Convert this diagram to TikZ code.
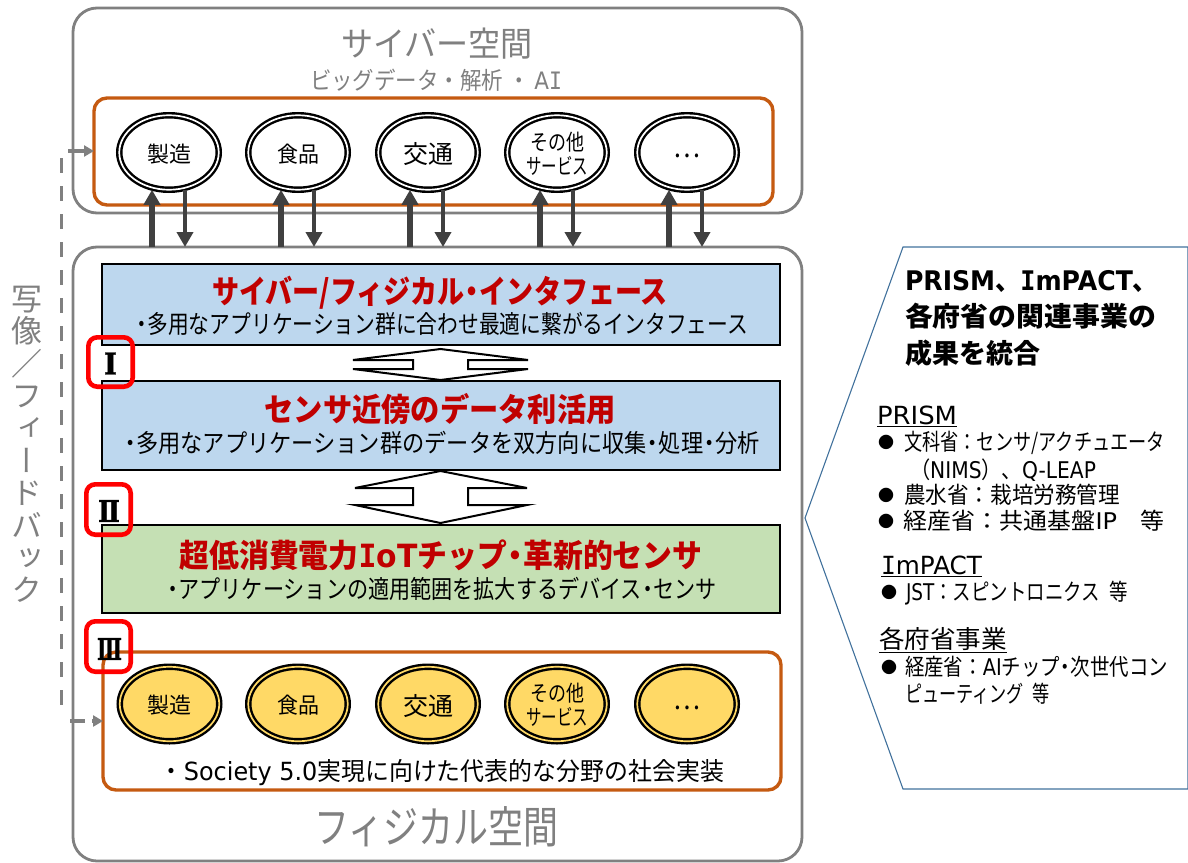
\documentclass[tikz,border=0pt]{standalone}
\usepackage{fontspec}
\usepackage{graphicx}
\setmainfont{Noto Sans CJK JP}
\newfontfamily\vjp[RawFeature=+vert]{Noto Sans CJK JP}
\newfontfamily\romf[FakeBold=1.2]{DejaVu Serif Bold}
\newfontfamily\latf{DejaVu Sans}
\newfontfamily\imono{DejaVu Sans Mono}
\newcommand\lat[1]{{\latf #1}}
\newcommand\serI{{\imono I}}
\newcommand\nd{\makebox[.55em][c]{・}}
\usetikzlibrary{arrows.meta,shapes.geometric}
\definecolor{gr}{HTML}{808080}
\definecolor{orng}{HTML}{C55A11}
\definecolor{blu}{HTML}{BDD7EE}
\definecolor{grn}{HTML}{C5E0B4}
\definecolor{yel}{HTML}{FFD966}
\definecolor{dred}{HTML}{C00000}
\definecolor{dk}{HTML}{404040}
\definecolor{calloutc}{HTML}{41719C}
\tikzset{
  boxbase/.style={anchor=north west,inner sep=0,outer sep=0},
  graybox/.style={boxbase,draw=gr,line width=2.8pt,rounded corners=24pt,fill=white},
  orngbox/.style={boxbase,draw=orng,line width=3.4pt,rounded corners=13pt},
  layerbox/.style={boxbase,draw=black,line width=2.6pt},
  redbox/.style={boxbase,draw=red,line width=4.6pt,rounded corners=9pt},
  ell/.style={ellipse,draw=black,line width=2.4pt,double,double distance=1.7pt,inner sep=0,outer sep=0,minimum width=99.5pt,minimum height=74.5pt},
  cyb/.style={ell,fill=white,double=white},
  phy/.style={ell,fill=yel,double=yel},
  linkup/.style={draw=dk,line width=5.8pt,-{Triangle[length=15pt,width=16pt]}},
  linkdown/.style={draw=dk,line width=4.6pt,-{Triangle[length=15pt,width=16pt]}},
  feed/.style={draw=gr,line width=3.6pt,dash pattern=on 15pt off 13pt},
  feedtip/.style={draw=gr,line width=3.6pt,-{Triangle[length=10pt,width=11pt]}},
  feedtipd/.style={feedtip,dash pattern=on 15pt off 7pt},
  updown/.style={draw=black,line width=2pt,fill=white,line join=miter,miter limit=10},
  numeral/.style={inner sep=0,font=\romf\fontsize{30pt}{30pt}\selectfont}
}
\newcommand\lab[7][]{\node[anchor=base,inner sep=0,#1] (#2) at ({#3},{#4+.38*#5}) {\fontsize{#5pt}{#5pt}\selectfont\resizebox{#6pt}{\height}{#7}};}
\newcommand\ft[3]{\raisebox{\dimexpr-.38pt*#1-1.5pt\relax}[0pt][0pt]{\fontsize{#1pt}{#1pt}\selectfont\resizebox{#2pt}{\height}{#3}}}
\begin{document}
\begin{tikzpicture}[x=1pt,y=-1pt]
\useasboundingbox (0,0) rectangle (1188,862);
% outer boxes
\node[graybox,minimum width=729pt,minimum height=205pt] (cyber) at (73,8) {};
\node[graybox,minimum width=729pt,minimum height=614pt] (phys) at (73,247) {};
\node[orngbox,minimum width=679pt,minimum height=107pt] (orng1) at (94,98) {};
\lab[gr]{cybt}{437}{44}{34}{192}{サイバー空間}
\lab[gr]{cybs}{436}{80}{24}{252}{ビッグデータ・解析 ・ \lat{A\serI}}
% cyber ellipses
\node[cyb] (e1) at (169,152.5) {\ft{22}{44}{製造}};
\node[cyb] (e2) at (298,152.5) {\ft{22}{42}{食品}};
\node[cyb] (e3) at (428,152.5) {\ft{25}{50}{交通}};
\node[cyb] (e4) at (557,152.5) {};
\lab{e4a}{557}{142}{22}{54}{その他}
\lab{e4b}{557}{166}{22}{62}{サービス}
\node[cyb] (e5) at (687,152.5) {\ft{28}{27}{\raisebox{7pt}{…}}};
% links
\foreach \i/\a/\b in {1/-17/16,2/-17/16,3/-18/15,4/-17/16,5/-18/15}{
  \draw[linkup] ([xshift=\a pt]e\i.south |- phys.north) -- ([xshift=\a pt]e\i.south);
  \draw[linkdown] ([xshift=\b pt]e\i.south) -- ([xshift=\b pt]e\i.south |- phys.north);
}
% layers
\node[layerbox,fill=blu,minimum width=678pt,minimum height=81pt] (l1) at (102,264) {};
\node[layerbox,fill=blu,minimum width=678pt,minimum height=89pt] (l2) at (102,381) {};
\node[layerbox,fill=grn,minimum width=678pt,minimum height=88pt] (l3) at (102,525) {};
\lab[dred,font=\bfseries]{t1}{440}{291}{32}{456}{サイバー/フィジカル\nd インタフェース}
\lab{s1}{442}{324}{25}{612}{\nd 多用なアプリケーション群に合わせ最適に繋がるインタフェース}
\lab[dred,font=\bfseries]{t2}{440}{409}{32}{351}{センサ近傍のデータ利活用}
\lab{s2}{442}{443}{25}{636}{\nd 多用なアプリケーション群のデータを双方向に収集\nd 処理\nd 分析}
\lab[dred,font=\bfseries]{t3}{441}{555}{32}{523}{超低消費電力\lat{\serI oT}チップ\nd 革新的センサ}
\lab{s3}{442}{589}{25}{550}{\nd アプリケーションの適用範囲を拡大するデバイス\nd センサ}
% up-down arrows
\draw[updown] (440.5,349) -- (528,360) -- (468,360) -- (468,369) -- (528,369) -- (440.5,380) -- (353,369) -- (413,369) -- (413,360) -- (353,360) -- cycle;
\draw[updown] (440.5,471) -- (527,488) -- (468,488) -- (468,505) -- (527,505) -- (440.5,523) -- (355,505) -- (413,505) -- (413,488) -- (355,488) -- cycle;
% physical
\node[orngbox,minimum width=678pt,minimum height=138pt] (orng2) at (103,652) {};
\node[phy] (p1) at (169.5,704) {\ft{22}{44}{製造}};
\node[phy] (p2) at (298,704) {\ft{22}{42}{食品}};
\node[phy] (p3) at (428,704) {\ft{25}{50}{交通}};
\node[phy] (p4) at (557,704) {};
\lab{p4a}{557}{693.5}{22}{54}{その他}
\lab{p4b}{557}{717.5}{22}{62}{サービス}
\node[phy] (p5) at (687,704) {\ft{28}{27}{\raisebox{7pt}{…}}};
\lab{soc}{442}{771}{25}{564}{・\lat{Society 5.0}実現に向けた代表的な分野の社会実装}
\lab[gr]{phyt}{436}{827}{44}{244}{フィジカル空間}
% numerals
\node[numeral] (n1) at (110.5,363.5) {\resizebox{13pt}{\height}{Ⅰ}};
\node[numeral] (n2) at (109,511) {\resizebox{22pt}{\height}{Ⅱ}};
\node[numeral] (n3) at (109.5,649) {\resizebox{25pt}{\height}{Ⅲ}};
\node[redbox,minimum width=44.4pt,minimum height=49.4pt] (r1) at (88.3,337.3) {};
\node[redbox,minimum width=44.4pt,minimum height=50.4pt] (r2) at (86.3,484.3) {};
\node[redbox,minimum width=44.4pt,minimum height=50.4pt] (r3) at (86.3,621.3) {};
% feedback
\coordinate (fv1) at (61.5,158);
\coordinate (fv2) at (61.5,717);
\coordinate (fa1) at (68,151);
\coordinate (fa2) at (70,721);
\draw[feed] (fv1) -- (fv2);
\draw[feedtip] (fa1) -- (fa1 -| orng1.west);
\draw[feedtipd] (fa2) -- (fa2 -| orng2.west);
\node[gr,align=center,inner sep=0,text=gr,font=\fontsize{31pt}{32.4pt}\selectfont\vjp] (fblab) at (27.5,444.5) {写\\像\\{\normalfont ／}\\フ\\ィ\\ー\\ド\\バ\\ッ\\ク};
% callout
\draw[draw=calloutc,line width=1.1pt] (903,247) -- (1188,247) -- (1188,789) -- (903,789) -- (805,518) -- cycle;
\lab[font=\bfseries]{c1}{1031.5}{280}{27}{253}{\lat{PRISM}、\lat{\serI mPACT}、}
\lab[font=\bfseries]{c2}{1030.5}{316}{27}{251}{各府省の関連事業の}
\lab[font=\bfseries]{c3}{972.5}{353}{27}{135}{成果を統合}
\lab{h1}{917}{415}{25}{80}{\underline{\lat{PRISM}}}
\lab{b1}{886}{442}{16}{16}{●}
\lab{i1}{1034.5}{442}{23}{261}{文科省：センサ/アクチュエータ}
\lab{i1b}{1003}{470}{23}{186}{（\lat{NIMS}）、\lat{Q-LEAP}}
\lab{b2}{886}{495}{16}{16}{●}
\lab{i2}{1012}{495}{23}{216}{農水省：栽培労務管理}
\lab{b3}{886}{521}{16}{16}{●}
\lab{i3}{1034}{521}{23}{260}{経産省：共通基盤\lat{IP}\hspace{22pt}等}
\lab{h2}{931.5}{565}{25}{101}{\underline{\lat{\serI mPACT}}}
\lab{b4}{889}{592}{16}{16}{●}
\lab{i4}{1017}{592}{23}{222}{\lat{JST}：スピントロニクス\hspace{12pt}等}
\lab{h3}{943}{639}{25}{128}{\underline{各府省事業}}
\lab{b5}{889}{667}{16}{16}{●}
\lab{i5}{1036.5}{667}{23}{263}{経産省：\lat{AI}チップ\nd 次世代コン}
\lab{i5b}{977.5}{694}{23}{145}{ピューティング\hspace{12pt}等}
\end{tikzpicture}
\end{document}
